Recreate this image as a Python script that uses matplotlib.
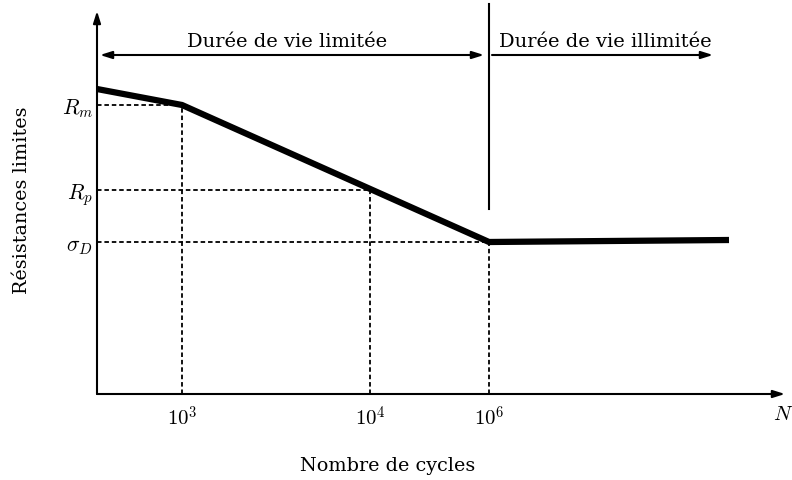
# Courbe de Wöhler schématique : résistance limite en fonction du nombre de cycles

import matplotlib
matplotlib.use('Agg')
import matplotlib.pyplot as plt

plt.rcParams['font.family'] = 'DejaVu Serif'
plt.rcParams['mathtext.fontset'] = 'cm'

# Points de la courbe (abscisses schématiques, pas à l'échelle)
curve_x = [0.0, 0.85, 3.92, 6.32]
curve_y = [3.05, 2.89, 1.52, 1.54]

# Repères sur les axes
tick_x = [0.85, 2.73, 3.92]
tick_labels = [r'$10^3$', r'$10^4$', r'$10^6$']
level_y = [2.89, 2.04, 1.52]
level_labels = [r'$R_m$', r'$R_p$', r'$\sigma_D$']

X_MAX, Y_MAX = 6.88, 3.83

fig = plt.figure(figsize=(7.92, 4.81), dpi=100)
ax = fig.add_axes([97 / 792, 86 / 481, (785 - 97) / 792, (395 - 12) / 481])
ax.set_xlim(0, X_MAX)
ax.set_ylim(0, Y_MAX)
for spine in ax.spines.values():
    spine.set_visible(False)

# Axes fléchés
arrow = dict(arrowstyle='-|>,head_length=0.7,head_width=0.22', color='black', lw=1.5,
             shrinkA=0, shrinkB=0)
ax.annotate('', xy=(1, 0), xytext=(0, 0), xycoords='axes fraction', arrowprops=arrow,
            annotation_clip=False)
ax.annotate('', xy=(0, 1), xytext=(0, 0), xycoords='axes fraction', arrowprops=arrow,
            annotation_clip=False)

# Lignes de rappel pointillées
dash = (0, (2.5, 1.6))
for xv, yv in zip(tick_x, [2.89, 2.04, 1.52]):
    ax.plot([xv, xv], [0, yv], ls=dash, color='black', lw=1.3)
for yv, xv in zip(level_y, [0.85, 2.73, 3.92]):
    ax.plot([0, xv], [yv, yv], ls=dash, color='black', lw=1.3)

# Courbe
ax.plot(curve_x, curve_y, color='black', lw=4.5, solid_joinstyle='miter',
        solid_capstyle='butt', zorder=5)

# Graduations
ax.set_xticks(tick_x)
ax.set_xticklabels(tick_labels, fontsize=15)
ax.set_yticks(level_y)
ax.set_yticklabels(level_labels, fontsize=15.5)
ax.tick_params(axis='both', length=0)
ax.tick_params(axis='x', pad=8)
ax.tick_params(axis='y', pad=3)

ax.text(6.86, -0.2, r'$N$', fontsize=15, ha='center', va='center')
fig.text(388 / 792, 1 - 466 / 481, 'Nombre de cycles', fontsize=13.8,
         ha='center', va='center')
fig.text(22 / 792, 1 - 200 / 481, 'Résistances limites', fontsize=13.8,
         ha='center', va='center', rotation=90)

# Séparation entre durée de vie limitée et illimitée
ax.plot([3.92, 3.92], [1.85, 3.90], color='black', lw=1.5, clip_on=False)
ax.annotate('', xy=(0.03, 3.39), xytext=(3.87, 3.39),
            arrowprops=dict(arrowstyle='<|-|>,head_length=0.7,head_width=0.22',
                            color='black', lw=1.5, shrinkA=0, shrinkB=0))
ax.annotate('', xy=(6.16, 3.39), xytext=(3.95, 3.39),
            arrowprops=dict(arrowstyle='-|>,head_length=0.7,head_width=0.22',
                            color='black', lw=1.5, shrinkA=0, shrinkB=0))
ax.text(1.9, 3.53, 'Durée de vie limitée', fontsize=14, ha='center', va='center')
ax.text(5.08, 3.53, 'Durée de vie illimitée', fontsize=14, ha='center', va='center')

fig.savefig('out.png', dpi=100)
